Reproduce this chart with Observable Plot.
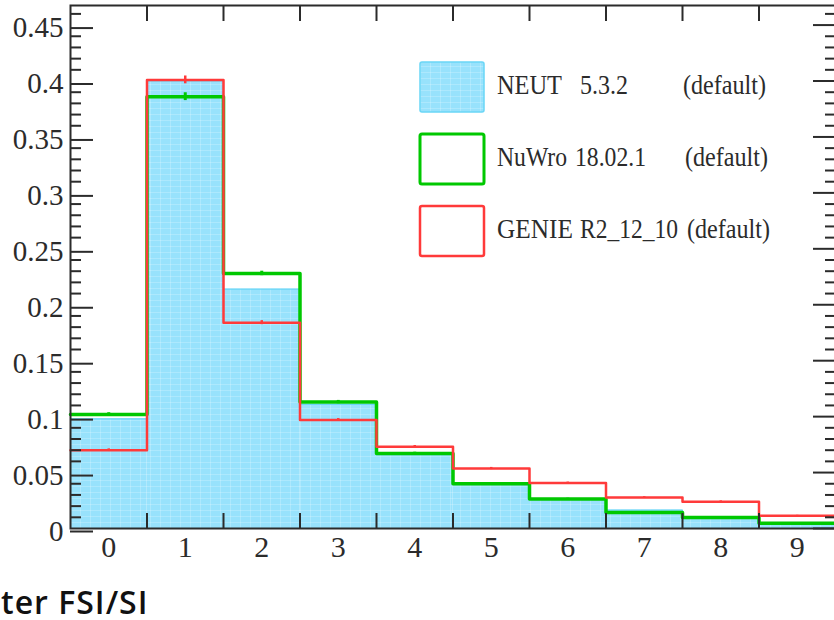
<!DOCTYPE html>
<html>
<head>
<meta charset="utf-8">
<script src="https://cdn.jsdelivr.net/npm/d3@7"></script>
<script src="https://cdn.jsdelivr.net/npm/@observablehq/plot@0.6"></script>
<style>
  body { margin: 0; background: #fff; overflow: hidden; }
  #chart { position: relative; width: 834px; height: 570px; }
  .caption {
    position: absolute; left: 1px; top: 586px;
    font-family: "Open Sans", sans-serif; font-weight: 600; font-size: 32px;
    letter-spacing: 1px; line-height: 32px; color: #111; white-space: pre;
  }
</style>
</head>
<body>
<div id="chart"></div>
<div class="caption">ter FSI/SI</div>
<script>
// Multiplicity bins (0..9) and normalised fractions for each generator
const bins = [0, 1, 2, 3, 4, 5, 6, 7, 8, 9];
const neut  = [0.098, 0.400, 0.214, 0.111, 0.066, 0.040, 0.026, 0.0165, 0.0105, 0.004];
const nuwro = [0.102, 0.386, 0.228, 0.113, 0.067, 0.040, 0.0263, 0.0143, 0.0098, 0.0048];
const genie = [0.070, 0.401, 0.184, 0.097, 0.073, 0.0536, 0.0406, 0.0277, 0.024, 0.0113];
// statistical uncertainties
const nuwroErr = [0.0015, 0.0035, 0.002, 0.0015, 0.0012, 0.001, 0.0008, 0.0006, 0.0005, 0.0004];
const genieErr = [0.0012, 0.0035, 0.0018, 0.0013, 0.0012, 0.001, 0.0009, 0.0007, 0.0007, 0.0005];

// legend entries: generator, version, tune
const legendNames = ["NEUT", "NuWro", "GENIE"];
const legendVersions = ["5.3.2", "18.02.1", "R2_12_10"];
const legendNote = "(default)";

// axis ticks
const yMajor = [0, 0.05, 0.1, 0.15, 0.2, 0.25, 0.3, 0.35, 0.4, 0.45];
const yMinor = d3.range(0, 47).map(i => i / 100).filter(v => !yMajor.some(m => Math.abs(m - v) < 1e-9));
const binEdges = [0.5, 1.5, 2.5, 3.5, 4.5, 5.5, 6.5, 7.5, 8.5];

const NEUT_STROKE = "#6ad6f6";
const GREEN = "#00c800";
const RED = "#ff3a3a";
const INK = "#2b2b2b";

const rects = bins.map((b, i) => ({x1: b - 0.5, x2: b + 0.5, y: neut[i]}));
const steps = vals => bins.map((b, i) => ({x: b - 0.5, y: vals[i]})).concat([{x: bins[bins.length - 1] + 0.5, y: vals[vals.length - 1]}]);
const errs = (vals, e) => bins.map((b, i) => ({x: b, y1: vals[i] - e[i], y2: vals[i] + e[i], y: vals[i]}));

const fmt = d => String(+d.toFixed(2));

const plot = Plot.plot({
  width: 834,
  height: 570,
  marginLeft: 70,
  marginRight: -1,
  marginTop: 5,
  marginBottom: 42,
  style: {fontFamily: "'Liberation Serif', 'Times New Roman', serif", fontSize: "29px", color: INK, background: "#fff", overflow: "visible"},
  x: {domain: [-0.5, 9.5]},
  y: {domain: [0, 0.4675]},
  marks: [
    Plot.rectY(rects, {x1: "x1", x2: "x2", y: "y", fill: "url(#neutFill)"}),
    Plot.line(steps(neut), {x: "x", y: "y", curve: "step-after", stroke: NEUT_STROKE, strokeWidth: 1.2}),
    Plot.ruleX(errs(nuwro, nuwroErr), {x: "x", y1: "y1", y2: "y2", stroke: GREEN, strokeWidth: 3}),
    Plot.line(steps(nuwro), {x: "x", y: "y", curve: "step-after", stroke: GREEN, strokeWidth: 3.5}),
    Plot.ruleX(errs(genie, genieErr), {x: "x", y1: "y1", y2: "y2", stroke: RED, strokeWidth: 2.5}),
    Plot.line(steps(genie), {x: "x", y: "y", curve: "step-after", stroke: RED, strokeWidth: 2.5}),
    // frame
    Plot.frame({stroke: INK, strokeWidth: 2}),
    // left axis: inward ticks
    Plot.axisY({anchor: "left", ticks: yMajor, tickSize: 23, dx: 23, tickPadding: 7, dy: 3, tickFormat: fmt, strokeWidth: 2, label: null, fontSize: 29}),
    Plot.axisY({anchor: "left", ticks: yMinor, tickSize: 11, dx: 11, tickFormat: () => "", strokeWidth: 2, label: null}),
    // right axis: inward ticks
    Plot.axisY({anchor: "right", ticks: yMajor, tickSize: 23, dx: -23, tickFormat: () => "", strokeWidth: 2, label: null}),
    Plot.axisY({anchor: "right", ticks: yMinor, tickSize: 11, dx: -11, tickFormat: () => "", strokeWidth: 2, label: null}),
    // bottom and top: ticks at bin edges, labels at bin centres
    Plot.axisX({anchor: "bottom", ticks: binEdges, tickSize: 15, dy: -15, tickFormat: () => "", strokeWidth: 2, label: null}),
    Plot.axisX({anchor: "top", ticks: binEdges, tickSize: 15, dy: 15, tickFormat: () => "", strokeWidth: 2, label: null}),
    Plot.axisX({anchor: "bottom", ticks: bins, tickSize: 0, tickPadding: 7, tickFormat: d => String(d), label: null, fontSize: 30})
  ]
});

const svg = d3.select(plot);
// fill pattern for the NEUT histogram
const defs = svg.insert("defs", ":first-child");
const pat = defs.append("pattern").attr("id", "neutFill").attr("patternUnits", "userSpaceOnUse")
  .attr("width", 10).attr("height", 6);
pat.append("rect").attr("width", 10).attr("height", 6).attr("fill", "#98e2fc");
pat.append("path").attr("d", "M0,0.5H10M0.5,0V6").attr("stroke", "#fff").attr("stroke-opacity", 0.2).attr("stroke-width", 1);

// legend
const leg = svg.append("g")
  .attr("font-family", "'Liberation Serif', 'Times New Roman', serif")
  .attr("font-size", 26.5).attr("fill", INK).attr("text-anchor", "start");
const legStyles = [
  {fill: "url(#neutFill)", stroke: NEUT_STROKE, sw: 1.5},
  {fill: "#fff", stroke: GREEN, sw: 3},
  {fill: "#fff", stroke: RED, sw: 2.5}
];
// [x, width] of each text piece per row
const legLayout = [
  [[497, 65], [580, 48], [683, 83]],
  [[497, 70], [575, 71], [685, 83]],
  [[497, 76], [580, 98], [687, 83]]
];
const addText = (x, y, w, s) => leg.append("text").attr("x", x).attr("y", y)
  .attr("textLength", w).attr("lengthAdjust", "spacingAndGlyphs").text(s);
legendNames.forEach((name, i) => {
  const top = 62 + i * 72;
  leg.append("rect").attr("x", 420).attr("y", top).attr("width", 64).attr("height", 50).attr("rx", 2)
    .attr("fill", legStyles[i].fill).attr("stroke", legStyles[i].stroke).attr("stroke-width", legStyles[i].sw);
  const L = legLayout[i];
  addText(L[0][0], top + 32, L[0][1], name);
  addText(L[1][0], top + 32, L[1][1], legendVersions[i]);
  addText(L[2][0], top + 32, L[2][1], legendNote);
});

document.getElementById("chart").appendChild(plot);
</script>
</body>
</html>
